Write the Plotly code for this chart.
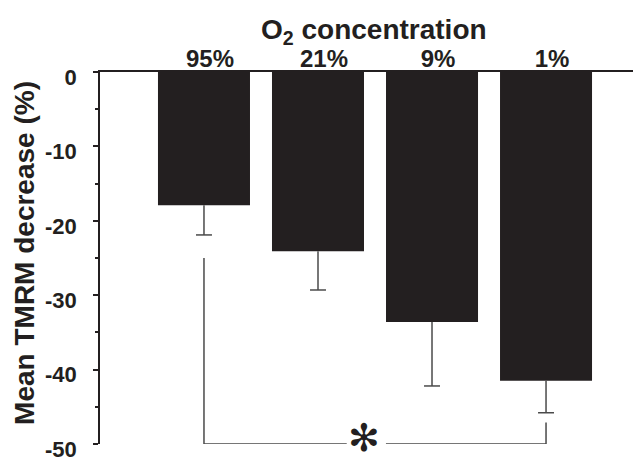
import plotly.graph_objects as go

# ---- data ----
categories = ["95%", "21%", "9%", "1%"]
mean_decrease = [-17.9, -24.1, -33.6, -41.5]
error_down = [4.0, 5.2, 8.6, 4.3]
y_tick_vals = [0, -10, -20, -30, -40, -50]
y_tick_text = ["0", "-10", "-20", "-30", "-40", "-50"]
sig_groups = ["95%", "1%"]
sig_start = [-25.0, -47.1]
sig_level = -50.0
sig_label = "✻"

# ---- styling / layout constants ----
INK = "#231f20"
ERR = "#4a4a4a"
FONT = "Liberation Sans"
BAR_W = 0.807
CAP = 0.07
GAP_L, GAP_R = 1.252, 1.596
STAR_X, STAR_Y = 1.40, -49.2

x = list(range(len(categories)))

ex, ey = [], []
for xi, m, e in zip(x, mean_decrease, error_down):
    ex += [xi, xi, None, xi - CAP, xi + CAP, None]
    ey += [m, m - e, None, m - e, m - e, None]

i0 = categories.index(sig_groups[0])
i1 = categories.index(sig_groups[1])
bx = [i0, i0, GAP_L, None, GAP_R, i1, i1]
by = [sig_start[0], sig_level, sig_level, None, sig_level, sig_level, sig_start[1]]

fig = go.Figure()
fig.add_bar(x=x, y=mean_decrease, width=BAR_W, marker_color=INK,
            marker_line_width=0, hoverinfo="skip")
fig.add_scatter(x=ex, y=ey, mode="lines", line=dict(color=ERR, width=1.5),
                cliponaxis=False, hoverinfo="skip")
fig.add_scatter(x=bx, y=by, mode="lines", line=dict(color=ERR, width=1.5),
                cliponaxis=False, hoverinfo="skip")

fig.update_layout(
    width=641, height=462,
    margin=dict(l=92, r=8, t=64, b=23),
    plot_bgcolor="white", paper_bgcolor="white",
    showlegend=False,
    xaxis=dict(
        range=[-0.912, 3.833], side="top",
        tickmode="array", tickvals=x, ticktext=categories,
        showline=True, linecolor=INK, linewidth=1.5,
        ticks="", showgrid=False, zeroline=False,
        tickfont=dict(family=FONT, size=24, color=INK, weight="bold"),
        ticklabelshift=6, ticklabelstandoff=-6,
    ),
    yaxis=dict(
        range=[-50, 0],
        tickmode="array", tickvals=y_tick_vals, ticktext=y_tick_text,
        showline=True, linecolor=INK, linewidth=1.5,
        ticks="outside", ticklen=5, tickwidth=1.5, tickcolor=INK,
        minor=dict(dtick=5, tick0=0, ticks="outside", ticklen=3,
                   tickwidth=1.5, tickcolor=INK),
        showgrid=False, zeroline=False,
        tickfont=dict(family=FONT, size=22, color=INK, weight="bold"),
        ticklabelshift=5, ticklabelstandoff=12,
    ),
    annotations=[
        dict(text="Mean TMRM decrease (%)", textangle=-90,
             xref="paper", yref="paper", x=-0.1396, y=0.515,
             xanchor="center", yanchor="middle", showarrow=False,
             font=dict(family=FONT, size=28, color=INK, weight="bold")),
        dict(text="O<sub>2</sub> concentration",
             xref="paper", yref="paper", x=0.5065, y=1.109,
             xanchor="center", yanchor="middle", showarrow=False,
             font=dict(family=FONT, size=28, color=INK, weight="bold")),
        dict(text=sig_label, xref="x", yref="y", x=STAR_X, y=STAR_Y,
             xanchor="center", yanchor="middle", showarrow=False,
             font=dict(family="DejaVu Sans", size=38, color=INK)),
    ],
)

fig.write_html("out.html")
